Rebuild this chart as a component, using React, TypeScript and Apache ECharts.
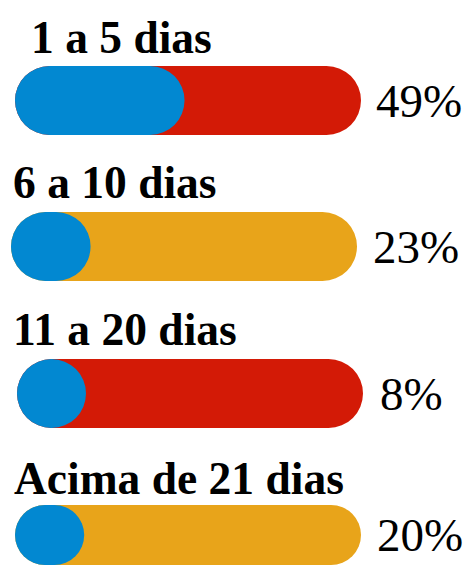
import React, { useEffect, useRef } from "react";
import * as echarts from "echarts";

// ---- data ----
const categories = ["1 a 5 dias", "6 a 10 dias", "11 a 20 dias", "Acima de 21 dias"];
const percentages = [49, 23, 8, 20];
const trackColors = ["#D31A06", "#E8A41A", "#D31A06", "#E8A41A"];
const fullScale = 100;

// ---- layout (positions only) ----
const barLeft = [15, 11, 17, 15];
const barTop = [66, 212, 359, 505];
const barLength = 346;
const barThickness = 69;
const labelDx = [16, 2, -4, -1];
const labelDy = [-29, -30, -30, -27];
const pctDistance = [15, 16, 17, 16];

const BLUE = "#0288D1";
const SERIF = "'Liberation Serif', 'Times New Roman', serif";

export default function App() {
  const ref = useRef<HTMLDivElement>(null);
  useEffect(() => {
    if (!ref.current) return;
    const chart = echarts.init(ref.current, null, { renderer: "svg" });
    const grid: any[] = [];
    const xAxis: any[] = [];
    const yAxis: any[] = [];
    const series: any[] = [];
    categories.forEach((cat, i) => {
      grid.push({ left: barLeft[i], top: barTop[i], width: barLength, height: barThickness });
      xAxis.push({ gridIndex: i, type: "value", min: 0, max: fullScale, show: false });
      yAxis.push({ gridIndex: i, type: "category", data: [cat], show: false });
      series.push({
        type: "bar",
        xAxisIndex: i,
        yAxisIndex: i,
        data: [fullScale],
        barWidth: barThickness,
        silent: true,
        itemStyle: { color: trackColors[i], borderRadius: barThickness / 2 },
        label: {
          show: true,
          position: "right",
          distance: pctDistance[i],
          formatter: () => percentages[i] + "%",
          fontFamily: SERIF,
          fontWeight: "normal",
          fontStyle: "normal",
          fontSize: 47,
          color: "#000",
        },
        z: 1,
      });
      series.push({
        type: "bar",
        xAxisIndex: i,
        yAxisIndex: i,
        data: [percentages[i]],
        barWidth: barThickness,
        barGap: "-100%",
        barMinHeight: barThickness,
        silent: true,
        itemStyle: { color: BLUE, borderRadius: barThickness / 2 },
        label: {
          show: true,
          position: [labelDx[i], labelDy[i]],
          verticalAlign: "middle",
          align: "left",
          formatter: () => cat,
          fontFamily: SERIF,
          fontWeight: "bold",
          fontSize: 45.5,
          color: "#000",
        },
        z: 2,
      });
    });
    chart.setOption({
      animation: false,
      backgroundColor: "#ffffff",
      textStyle: { fontFamily: SERIF },
      grid,
      xAxis,
      yAxis,
      series,
    });
    return () => chart.dispose();
  }, []);
  return (
    <div
      ref={ref}
      style={{ position: "fixed", left: 0, top: 0, width: 466, height: 565 }}
    />
  );
}
